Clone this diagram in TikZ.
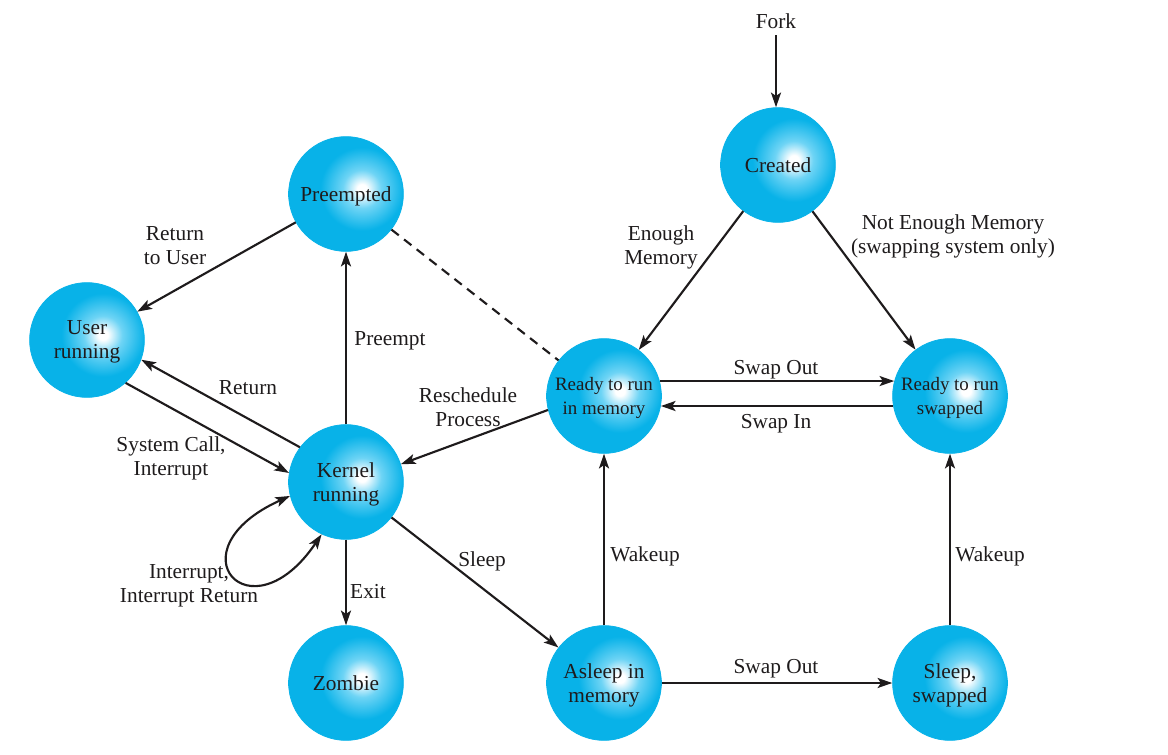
\documentclass[tikz,border=0pt]{standalone}
\usepackage{fontspec}
\setmainfont{Liberation Serif}
\usetikzlibrary{arrows.meta}
\definecolor{ink}{RGB}{30,27,28}
\definecolor{balledge}{RGB}{8,178,232}
\definecolor{ballmid}{RGB}{110,212,245}
\pgfdeclareradialshading{glow}{\pgfpoint{0bp}{0bp}}{color(0bp)=(white);color(1.5bp)=(white);color(6bp)=(ballmid);color(13bp)=(balledge);color(50bp)=(balledge)}
\begin{document}
\begin{tikzpicture}[x=0.75pt,y=-0.75pt,
  state/.style={circle,minimum size=86pt,inner sep=0pt,align=center,text=ink,text depth=0pt,
    draw=balledge,line width=0.6pt,
    font=\fontsize{16}{18}\selectfont,
    path picture={\shade[shading=glow] ([shift={(16,-5)}]path picture bounding box.center) circle (60pt);}},
  smallstate/.style={state,font=\fontsize{14.2}{18}\selectfont},
  lbl/.style={text=ink,align=center,text depth=0pt,font=\fontsize{16}{18}\selectfont,inner sep=0pt},
  tip/.style={Stealth[length=11pt,width=7.5pt,inset=2.5pt]},
  conn/.style={draw=ink,line width=1.6pt,-{Stealth[length=11pt,width=7.5pt,inset=2.5pt]}},
  conntwo/.style={draw=ink,line width=1.6pt,{Stealth[length=11pt,width=7.5pt,inset=2.5pt]}-{Stealth[length=11pt,width=7.5pt,inset=2.5pt]}},
  dashconn/.style={draw=ink,line width=1.6pt,dash pattern=on 7pt off 5pt}]
\useasboundingbox (0,0) rectangle (1168,755);

% states
\node[state] (created) at (778,165) {Created};
\node[state] (pre) at (346,194) {Preempted};
\node[state] (user) at (87,340) {User\\running};
\node[state] (kern) at (346,482) {Kernel\\running};
\node[state] (zomb) at (346,683) {Zombie};
\node[smallstate] (rm) at (604,396) {Ready to run\\in memory};
\node[smallstate] (rs) at (950,396) {Ready to run\\swapped};
\node[state] (asl) at (604,683) {Asleep in\\memory};
\node[state] (ss) at (950,683) {Sleep,\\swapped};
\node[lbl] (fork) at (776,21) {Fork};

% connectors
\draw[conn,shorten <=5pt] (fork.south) -- (fork.south |- created.north);
\draw[conn] (created) -- (rm);
\draw[conn] (created) -- (rs);
\draw[conn] (rm.15) -- (rs.165);
\draw[conn] (rs.-170) -- (rm.-10);
\draw[conn] (rm.194) -- (kern.18);
\draw[dashconn] (pre) -- (rm);
\draw[conn] (kern) -- (pre);
\draw[conn] (pre) -- (user);
\draw[conn] (kern.143) -- (user.-20);
\draw[conn] (user.-48) -- (kern.171);
\draw[conntwo] (kern.194) .. controls (170,550) and (250,640) .. (kern.245);
\draw[conn] (kern) -- (zomb);
\draw[conn] (kern) -- (asl);
\draw[conn] (asl) -- (rm);
\draw[conn] (asl) -- (ss);
\draw[conn] (ss) -- (rs);

% labels
\node[lbl] (l1) at (175,246) {Return\\to User};
\node[lbl] (l2) at (390,339) {Preempt};
\node[lbl] (l3) at (248,388) {Return};
\node[lbl] (l4) at (171,456) {System Call,\\Interrupt};
\node[lbl] (l5) at (468,407) {Reschedule\\Process};
\node[lbl] (l6) at (661,245) {Enough\\Memory};
\node[lbl] (l7) at (953,234) {Not Enough Memory\\(swapping system only)};
\node[lbl] (l8) at (776,367) {Swap Out};
\node[lbl] (l9) at (776,421) {Swap In};
\node[lbl] (l10) at (482,559) {Sleep};
\node[lbl] (l11) at (368,591) {Exit};
\node[lbl] (l12) at (189,584) {Interrupt,\\Interrupt Return};
\node[lbl] (l13) at (645,554) {Wakeup};
\node[lbl] (l14) at (990,554) {Wakeup};
\node[lbl] (l15) at (776,666) {Swap Out};
\end{tikzpicture}
\end{document}
